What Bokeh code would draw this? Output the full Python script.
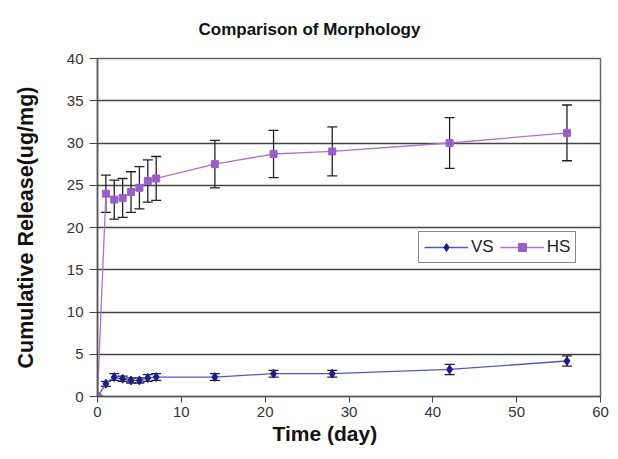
from bokeh.plotting import figure
from bokeh.models import ColumnDataSource, Whisker, TeeHead, Legend, LegendItem, FixedTicker, Title
from bokeh.embed import file_html
from bokeh.resources import INLINE

days = [0, 1, 2, 3, 4, 5, 6, 7, 14, 21, 28, 42, 56]
hs = [0, 24.0, 23.3, 23.5, 24.2, 24.7, 25.5, 25.8, 27.5, 28.7, 29.0, 30.0, 31.2]
hs_err = [0, 2.2, 2.3, 2.3, 2.4, 2.5, 2.5, 2.6, 2.8, 2.8, 2.9, 3.0, 3.3]
vs = [0, 1.5, 2.3, 2.1, 1.9, 1.9, 2.2, 2.3, 2.3, 2.7, 2.7, 3.2, 4.2]
vs_err = [0, 0.3, 0.4, 0.3, 0.3, 0.3, 0.4, 0.4, 0.4, 0.4, 0.4, 0.6, 0.6]

VS_COL = "#1c1f8a"
VS_LINE = "#5555c8"
HS_COL = "#9a5fc6"
HS_LINE = "#a875d0"
FONT = "Liberation Sans"

p = figure(width=612, height=452, x_range=(0, 60), y_range=(0, 40),
           output_backend="svg", toolbar_location=None,
           min_border_left=97, min_border_right=12, min_border_top=58, min_border_bottom=56)

p.add_layout(Title(text="Comparison of Morphology", align="left", offset=101,
                   vertical_align="top",
                   text_font=FONT, text_font_size="17px", text_font_style="bold",
                   text_color="#111111", standoff=36), "above")

src_hs = ColumnDataSource(dict(x=days, y=hs,
                               lo=[a - b for a, b in zip(hs, hs_err)],
                               hi=[a + b for a, b in zip(hs, hs_err)]))
src_vs = ColumnDataSource(dict(x=days, y=vs,
                               lo=[a - b for a, b in zip(vs, vs_err)],
                               hi=[a + b for a, b in zip(vs, vs_err)]))

for src in (src_hs, src_vs):
    w = Whisker(source=src, base="x", upper="hi", lower="lo",
                line_color="#222222", line_width=1.3,
                upper_head=TeeHead(size=10, line_color="#222222", line_width=1.3),
                lower_head=TeeHead(size=10, line_color="#222222", line_width=1.3))
    p.add_layout(w)

l_vs = p.line("x", "y", source=src_vs, line_color=VS_LINE, line_width=1.3)
m_vs = p.scatter("x", "y", source=src_vs, marker="diamond", size=9,
                 fill_color=VS_COL, line_color=VS_COL)
l_hs = p.line("x", "y", source=src_hs, line_color=HS_LINE, line_width=1.3)
m_hs = p.scatter("x", "y", source=src_hs, marker="square", size=7,
                 fill_color=HS_COL, line_color=HS_COL)

legend = Legend(items=[LegendItem(label="VS", renderers=[l_vs, m_vs]),
                       LegendItem(label="HS", renderers=[l_hs, m_hs])],
                orientation="horizontal", location=(321, 133),
                label_text_font=FONT, label_text_font_size="17px", label_text_color="#222222",
                border_line_color="#111111", border_line_width=1.2,
                glyph_width=44, label_standoff=3, spacing=6, padding=5, margin=0,
                background_fill_alpha=1.0)
p.add_layout(legend, "center")

p.xaxis.ticker = FixedTicker(ticks=[0, 10, 20, 30, 40, 50, 60])
p.yaxis.ticker = FixedTicker(ticks=list(range(0, 45, 5)))
for ax in (p.xaxis, p.yaxis):
    ax.major_label_text_font = FONT
    ax.major_label_text_font_size = "15px"
    ax.major_label_text_color = "#333333"
    ax.axis_label_text_font = FONT
    ax.axis_label_text_font_style = "bold"
    ax.axis_label_text_font_size = "21.5px"
    ax.axis_label_text_color = "#111111"
    ax.axis_line_color = "#555555"
    ax.axis_line_width = 1.5
    ax.major_tick_line_color = "#444444"
    ax.major_tick_in = 0
    ax.minor_tick_line_color = None
p.yaxis.major_tick_out = 8
p.yaxis.major_label_standoff = 6
p.xaxis.major_tick_out = 6
p.xaxis.major_label_standoff = 4
p.yaxis.axis_label = "Cumulative Release(ug/mg)"
p.yaxis.axis_label_standoff = 26

p.add_layout(Title(text="Time (day)", align="left", offset=175,
                   text_font=FONT, text_font_size="21px", text_font_style="bold",
                   text_color="#111111", standoff=0), "below")

p.xgrid.grid_line_color = None
p.ygrid.grid_line_color = "#444444"
p.ygrid.grid_line_width = 1.3
p.outline_line_color = "#666666"
p.outline_line_width = 1.5
p.background_fill_color = "white"
p.border_fill_color = "white"

open("out.html", "w").write(file_html(p, INLINE))
